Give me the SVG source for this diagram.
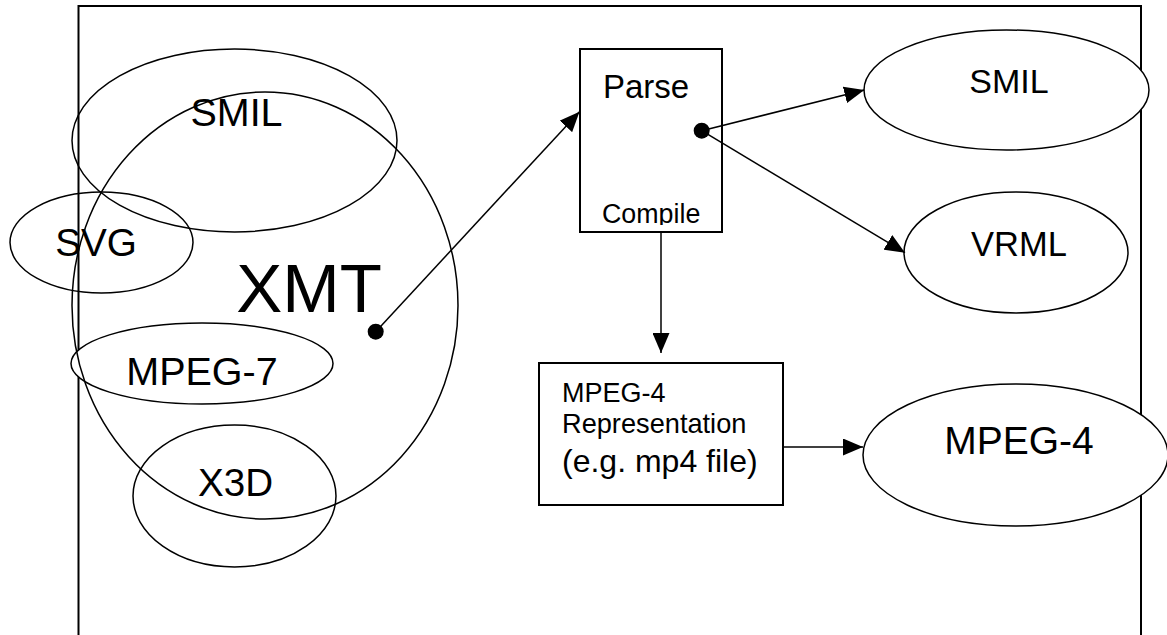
<svg xmlns="http://www.w3.org/2000/svg" width="1167" height="635" viewBox="0 0 1167 635">
<style>
  text { font-family: "Liberation Sans", Arial, sans-serif; fill: #000; }
  .frame { fill: none; stroke: #000; stroke-width: 2; }
  .ov { fill: none; stroke: #000; stroke-width: 1.5; }
  .ow { fill: #fff; stroke: #000; stroke-width: 1.5; }
  .box { fill: #fff; stroke: #000; stroke-width: 2; }
  .conn { stroke: #000; stroke-width: 1.5; fill: none; }
</style>
<defs>
  <marker id="arrow" markerUnits="userSpaceOnUse" markerWidth="20" markerHeight="17" refX="20" refY="8.5" orient="auto">
    <path d="M0,0 L20,8.5 L0,17 z" fill="#000"/>
  </marker>
  <clipPath id="parseClip"><rect x="580" y="49" width="142" height="176"/></clipPath>
</defs>
<rect width="1167" height="635" fill="#fff"/>
<rect class="frame" x="78.5" y="6" width="1062.5" height="700"/>

<g id="mpeg7">
  <ellipse class="ow" cx="202" cy="363.5" rx="131" ry="40.5"/>
  <text x="202" y="385" font-size="39.5" text-anchor="middle">MPEG-7</text>
</g>
<g id="xmt">
  <ellipse class="ov" cx="265" cy="305.5" rx="193" ry="213.5"/>
  <text x="309" y="311.5" font-size="69" text-anchor="middle">XMT</text>
</g>
<g id="smil-left">
  <ellipse class="ov" cx="234.5" cy="140.5" rx="162.5" ry="91.5"/>
  <text x="236.5" y="126" font-size="39.5" text-anchor="middle">SMIL</text>
</g>
<g id="svg">
  <ellipse class="ov" cx="101.5" cy="242.5" rx="91.5" ry="50.5"/>
  <text x="96" y="256" font-size="38.7" text-anchor="middle">SVG</text>
</g>
<g id="x3d">
  <ellipse class="ov" cx="234.5" cy="496" rx="101.5" ry="71"/>
  <text x="235.5" y="495.7" font-size="38.6" text-anchor="middle">X3D</text>
</g>

<g id="parse">
  <rect class="box" x="580" y="49" width="142" height="183"/>
  <text x="603" y="98" font-size="33">Parse</text>
  <text x="602" y="223" font-size="26.8" clip-path="url(#parseClip)">Compile</text>
</g>

<g id="smil-right">
  <ellipse class="ow" cx="1006.5" cy="90" rx="142.5" ry="60"/>
  <text x="1009" y="93" font-size="34" text-anchor="middle">SMIL</text>
</g>
<g id="vrml">
  <ellipse class="ow" cx="1016" cy="252.5" rx="112" ry="60.5"/>
  <text x="1019" y="256" font-size="34.5" text-anchor="middle">VRML</text>
</g>

<g id="rep">
  <rect class="box" x="539" y="363" width="244" height="142"/>
  <text x="562" y="402" font-size="27">MPEG-4</text>
  <text x="562" y="433" font-size="27.2">Representation</text>
  <text x="562" y="472" font-size="32">(e.g. mp4 file)</text>
</g>

<g id="mpeg4">
  <ellipse class="ow" cx="1015.5" cy="455" rx="152.5" ry="71"/>
  <text x="1019" y="454" font-size="39" text-anchor="middle">MPEG-4</text>
</g>

<g id="connectors">
  <line class="conn" x1="375.7" y1="331.7" x2="579.5" y2="111.7" marker-end="url(#arrow)"/>
  <circle cx="375.7" cy="331.7" r="8" fill="#000"/>
  <line class="conn" x1="701.7" y1="130.7" x2="864.3" y2="90" marker-end="url(#arrow)"/>
  <line class="conn" x1="701.7" y1="130.7" x2="905" y2="252.7" marker-end="url(#arrow)"/>
  <circle cx="701.7" cy="130.7" r="8" fill="#000"/>
  <line class="conn" x1="661" y1="232" x2="661" y2="353" marker-end="url(#arrow)"/>
  <line class="conn" x1="783" y1="447" x2="863" y2="447" marker-end="url(#arrow)"/>
</g>
</svg>
